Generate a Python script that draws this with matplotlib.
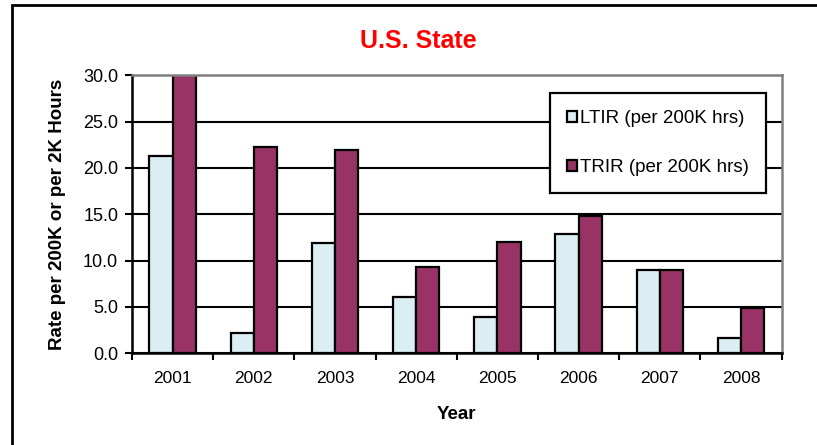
import numpy as np
import matplotlib
matplotlib.use("Agg")
import matplotlib.pyplot as plt
from matplotlib.patches import Rectangle

years = ["2001", "2002", "2003", "2004", "2005", "2006", "2007", "2008"]
ltir = [21.3, 2.2, 11.9, 6.1, 3.9, 12.9, 9.0, 1.6]
trir = [30.0, 22.3, 21.9, 9.3, 12.0, 14.8, 9.0, 4.9]
y_ticks = [0, 5, 10, 15, 20, 25, 30]

plt.rcParams['font.family'] = ['Liberation Sans', 'DejaVu Sans']

fig = plt.figure(figsize=(8.17, 4.45), dpi=100)
ax = fig.add_axes([0.1616, 0.206, 0.795, 0.625])

x = np.arange(len(years))
w = 0.285
ax.bar(x - w / 2, ltir, w, color="#DAEEF3", edgecolor="black", linewidth=1.6,
       label="LTIR (per 200K hrs)", zorder=3)
ax.bar(x + w / 2, trir, w, color="#993366", edgecolor="black", linewidth=1.6,
       label="TRIR (per 200K hrs)", zorder=3)

ax.set_xlim(-0.5, len(years) - 0.5)
ax.set_ylim(0, 30)
ax.set_yticks(y_ticks)
ax.set_yticklabels([f"{v:.1f}" for v in y_ticks])
ax.set_xticks(x)
ax.set_xticklabels(years)
ax.set_xticks(np.arange(len(years) + 1) - 0.5, minor=True)
ax.tick_params(axis="x", which="major", length=0, pad=13, labelsize=12.5)
ax.tick_params(axis="x", which="minor", length=5, width=1.5, direction="out")
ax.tick_params(axis="y", length=5, width=1.5, direction="out", labelsize=13, pad=5)

ax.yaxis.grid(True, color="black", linewidth=1.5, zorder=0)
ax.set_axisbelow(True)
for s in ["left", "bottom"]:
    ax.spines[s].set_color("black")
    ax.spines[s].set_linewidth(1.8)
    ax.spines[s].set_zorder(4)
for s in ["top", "right"]:
    ax.spines[s].set_color("#808080")
    ax.spines[s].set_linewidth(1.8)
    ax.spines[s].set_zorder(4)

ax.set_ylabel("Rate per 200K or per 2K Hours", fontsize=13.5, fontweight="bold", labelpad=12)
ax.set_xlabel("Year", fontsize=13.5, fontweight="bold", labelpad=14)

fig.text(0.512, 0.907, "U.S. State", color="red", fontsize=18, fontweight="bold",
         ha="center", va="center")

leg = ax.legend(loc="upper right", bbox_to_anchor=(0.976, 0.935), fontsize=13.5,
                frameon=True, fancybox=False, edgecolor="black", framealpha=1,
                borderpad=0.9, labelspacing=1.7, handlelength=0.55, handleheight=0.55,
                handletextpad=0.15, borderaxespad=0)
leg.get_frame().set_linewidth(1.6)
leg.set_zorder(5)

# outer chart border
fig.patches.append(Rectangle((11.5 / 817, -0.05), 1.1, (445 - 5.5) / 445 + 0.05,
                             transform=fig.transFigure, fill=False,
                             edgecolor="black", linewidth=2, clip_on=False))

fig.savefig("out.png", dpi=100)
